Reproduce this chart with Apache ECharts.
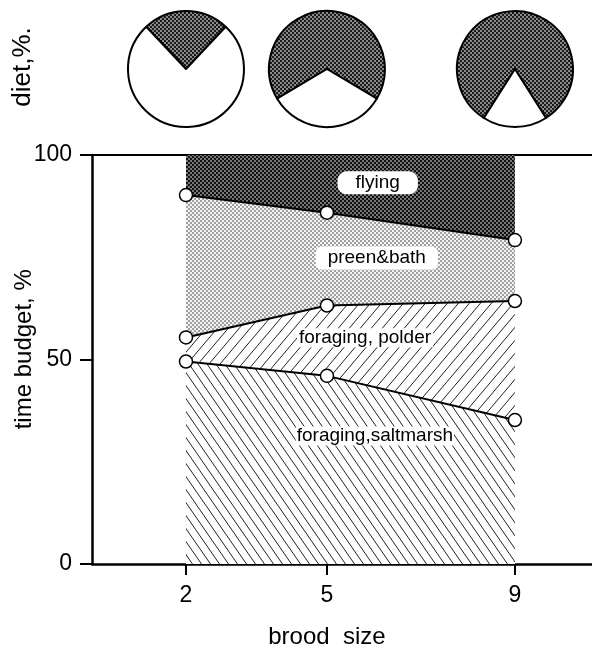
<!DOCTYPE html>
<html><head><meta charset="utf-8">
<script src="https://cdn.jsdelivr.net/npm/echarts@6/dist/echarts.min.js"></script>
<style>html,body{margin:0;padding:0;background:#fff}#c{width:592px;height:649px}</style>
</head><body><div id="c"></div>
<script>
// ---- data ----
const broodSizes   = [2, 5, 9];
const saltmarshTop = [49.5, 46.0, 35.2];   // upper edge of "foraging, saltmarsh"
const polderTop    = [55.4, 63.2, 64.3];   // upper edge of "foraging, polder"
const preenTop     = [90.2, 85.9, 79.2];   // upper edge of "preen & bath"
const flyingTop    = [100, 100, 100];      // upper edge of "flying"
const dietShaded   = [24, 67, 82];         // shaded share of diet, %
const yTickValues  = [0, 50, 100];
const xTickValues  = [2, 5, 9];

const FONT = "'Liberation Sans', Arial, Helvetica, sans-serif";

function stipple(bg, fg) {
  const c = document.createElement('canvas'); c.width = 4; c.height = 4;
  const x = c.getContext('2d');
  x.fillStyle = bg; x.fillRect(0, 0, 4, 4);
  x.fillStyle = fg; x.fillRect(0, 0, 2, 2); x.fillRect(2, 2, 2, 2);
  return c;
}
function hatch(w, h, dir) {
  const c = document.createElement('canvas'); c.width = w; c.height = h;
  const x = c.getContext('2d');
  x.fillStyle = '#fff'; x.fillRect(0, 0, w, h);
  x.strokeStyle = '#222'; x.lineWidth = 1;
  x.beginPath();
  for (const o of [-w, 0, w]) {
    if (dir > 0) { x.moveTo(o, h); x.lineTo(o + w, 0); }
    else { x.moveTo(o, 0); x.lineTo(o + w, h); }
  }
  x.stroke();
  return c;
}
const pat = c => ({ image: c, repeat: 'repeat' });
const flyPat   = pat(stipple('#777', '#111'));
const preenPat = pat(stipple('#f4f4f4', '#a0a0a0'));
const polPat   = pat(hatch(11, 13, 1));
const saltPat  = pat(hatch(9, 13, -1));
const piePat   = pat(stipple('#8a8a8a', '#1a1a1a'));

// painted top layer first; each opaque layer covers the part below its own top edge
const layers = [
  { top: flyingTop,    fill: flyPat },
  { top: preenTop,     fill: preenPat },
  { top: polderTop,    fill: polPat },
  { top: saltmarshTop, fill: saltPat }
];
const boundaries = [saltmarshTop, polderTop, preenTop];

const areaSeries = layers.map(l => ({
  type: 'line', symbol: 'none', z: 2,
  lineStyle: { width: 0 },
  areaStyle: { color: l.fill, opacity: 1, origin: 'start' },
  data: broodSizes.map((x, i) => [x, l.top[i]])
}));
const lineSeries = boundaries.map(b => ({
  type: 'line', z: 5, symbol: 'circle', symbolSize: 13,
  lineStyle: { color: '#000', width: 2 },
  itemStyle: { color: '#fff', borderColor: '#000', borderWidth: 1.5 },
  data: broodSizes.map((x, i) => [x, b[i]])
}));

const chart = echarts.init(document.getElementById('c'), null, { renderer: 'canvas' });
const base = {
  animation: false,
  backgroundColor: '#fff',
  grid: { left: 92, right: 0, top: 155, bottom: 85, outerBoundsMode: 'none', containLabel: false },
  xAxis: [{
    type: 'value', min: 0, max: 10.64, position: 'bottom',
    axisLine: { show: true, onZero: false, lineStyle: { color: '#000', width: 2.5 } },
    axisTick: { show: true, length: 11, customValues: xTickValues, lineStyle: { color: '#000', width: 2 } },
    axisLabel: { customValues: xTickValues, fontSize: 23, color: '#000', fontFamily: FONT, margin: 20 },
    splitLine: { show: false }
  }, {
    type: 'value', min: 0, max: 10.64, position: 'top',
    axisLine: { show: true, onZero: false, lineStyle: { color: '#000', width: 2 } },
    axisTick: { show: false }, axisLabel: { show: false }, splitLine: { show: false }
  }],
  yAxis: {
    type: 'value', min: 0, max: 100, interval: 50,
    axisLine: { show: true, lineStyle: { color: '#000', width: 2.5 } },
    axisTick: { show: true, length: 12, lineStyle: { color: '#000', width: 2 } },
    axisLabel: { fontSize: 23, color: '#000', fontFamily: FONT, margin: 20,
      formatter: v => yTickValues.includes(v) ? String(v) : '' },
    splitLine: { show: false }
  },
  series: areaSeries.concat(lineSeries)
};
chart.setOption(base);

const px = (x, y) => chart.convertToPixel({ xAxisIndex: 0, yAxisIndex: 0 }, [x, y]);
const pieY = 69;
const pies = broodSizes.map((b, i) => {
  const s = dietShaded[i];
  return {
    type: 'pie', silent: true, z: 3,
    center: [px(b, 0)[0], pieY], radius: 58,
    startAngle: 90 + s * 1.8, clockwise: true,
    label: { show: false }, labelLine: { show: false },
    itemStyle: { borderColor: '#000', borderWidth: 2 },
    emphasis: { disabled: true },
    data: [
      { value: s, itemStyle: { color: piePat } },
      { value: 100 - s, itemStyle: { color: '#fff' } }
    ]
  };
});

function label(text, x, y, opts) {
  const p = px(x, y);
  return {
    type: 'text', x: p[0], y: p[1], z: 100,
    style: Object.assign({
      text: text, font: '19px ' + FONT, fill: '#000',
      align: 'center', verticalAlign: 'middle'
    }, opts || {})
  };
}
const xMid = px(5, 0)[0];
const yMid = px(0, 52.5)[1];
chart.setOption({
  series: base.series.concat(pies),
  graphic: [
    label('flying', 6.08, 93.2, { backgroundColor: '#fff', padding: [2, 18], borderRadius: 9 }),
    label('preen&bath', 6.06, 74.8, { backgroundColor: '#fff', padding: [2, 12], borderRadius: 6 }),
    label('foraging, polder', 5.81, 55.3, { backgroundColor: '#fff', padding: [0, 2] }),
    label('foraging,saltmarsh', 6.02, 31.3, { backgroundColor: '#fff', padding: [0, 1] }),
    { type: 'text', x: xMid, y: 637, z: 100,
      style: { text: 'brood  size', font: '24px ' + FONT, fill: '#000', align: 'center', verticalAlign: 'middle' } },
    { type: 'text', x: 24, y: yMid, rotation: Math.PI / 2, z: 100,
      style: { text: 'time budget, %', font: '24px ' + FONT, fill: '#000', align: 'center', verticalAlign: 'middle' } },
    { type: 'text', x: 23, y: pieY - 2, rotation: Math.PI / 2, z: 100,
      style: { text: 'diet,%.', font: '26px ' + FONT, fill: '#000', align: 'center', verticalAlign: 'middle' } }
  ]
});
</script></body></html>
